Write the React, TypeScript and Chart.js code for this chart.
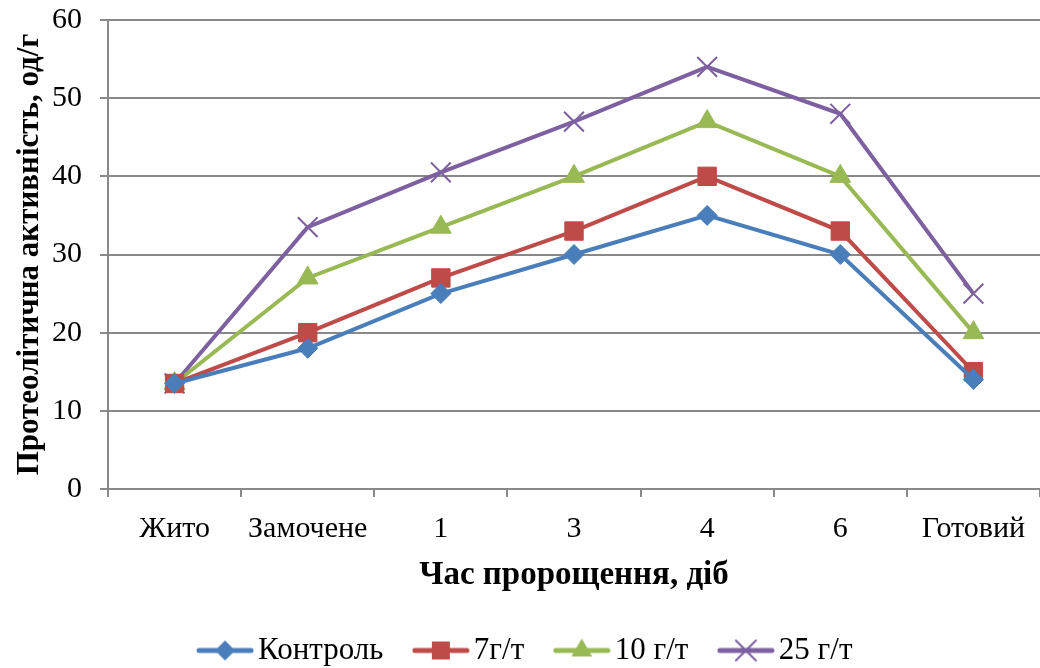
import React, { useEffect, useRef } from "react";
import { Chart, registerables } from "chart.js";

Chart.register(...registerables);

const categories = ["Жито", "Замочене", "1", "3", "4", "6", "Готовий"];
const control = [13.5, 18, 25, 30, 35, 30, 14];
const s7 = [13.5, 20, 27, 33, 40, 33, 15];
const s10 = [13.5, 27, 33.5, 40, 47, 40, 20];
const s25 = [13.5, 33.5, 40.5, 47, 54, 48, 25];
const seriesLabels = ["Контроль", "7г/т", "10 г/т", "25 г/т"];
const yTitle = "Протеолітична активність, од/г";
const xTitle = "Час пророщення, діб";

const colors = ["#4A7EBB", "#BE4B48", "#98B954", "#7D60A0"];
const FONT = '"Liberation Serif", "Times New Roman", serif';
const GRID = "#898989";

function drawMarker(ctx: CanvasRenderingContext2D, kind: string, x: number, y: number, color: string) {
  ctx.fillStyle = color;
  ctx.strokeStyle = color;
  ctx.beginPath();
  if (kind === "diamond") {
    const r = 10;
    ctx.moveTo(x, y - r);
    ctx.lineTo(x + r, y);
    ctx.lineTo(x, y + r);
    ctx.lineTo(x - r, y);
    ctx.closePath();
    ctx.fill();
  } else if (kind === "square") {
    ctx.rect(x - 9, y - 9, 18, 18);
    ctx.fill();
  } else if (kind === "triangle") {
    const r = 12;
    ctx.moveTo(x, y - r);
    ctx.lineTo(x + r * 0.866, y + r * 0.5);
    ctx.lineTo(x - r * 0.866, y + r * 0.5);
    ctx.closePath();
    ctx.fill();
  } else {
    const h = 10;
    ctx.lineWidth = 2;
    ctx.moveTo(x - h, y - h);
    ctx.lineTo(x + h, y + h);
    ctx.moveTo(x + h, y - h);
    ctx.lineTo(x - h, y + h);
    ctx.stroke();
  }
}

function makeIcon(kind: string, color: string) {
  const c = document.createElement("canvas");
  c.width = 58;
  c.height = 28;
  const ctx = c.getContext("2d")!;
  ctx.strokeStyle = color;
  ctx.lineWidth = 5;
  ctx.lineCap = "round";
  ctx.beginPath();
  ctx.moveTo(3, 14);
  ctx.lineTo(55, 14);
  ctx.stroke();
  drawMarker(ctx, kind, 29, 14, color);
  return c;
}

export default function App() {
  const ref = useRef<HTMLCanvasElement | null>(null);
  useEffect(() => {
    if (!ref.current) return;
    const kinds = ["diamond", "square", "triangle", "cross"];
    const icons = kinds.map((k, i) => makeIcon(k, colors[i]));
    const data = [control, s7, s10, s25];
    const pointStyles = ["rectRot", "rect", "triangle", "crossRot"];
    const radii = [10, 13, 12, 14];
    const chart = new Chart(ref.current, {
      type: "line",
      data: {
        labels: categories,
        datasets: data.map((d, i) => ({
          label: seriesLabels[i],
          data: d,
          borderColor: colors[i],
          backgroundColor: colors[i],
          borderWidth: 4,
          pointStyle: pointStyles[i] as any,
          pointRadius: radii[i],
          pointBorderWidth: i === 3 ? 2 : 1,
          pointBackgroundColor: colors[i],
          pointBorderColor: colors[i],
          tension: 0,
        })),
      },
      options: {
        animation: false,
        responsive: false,
        layout: { autoPadding: false, padding: { left: 20, right: 0, top: 20, bottom: 0 } },
        plugins: {
          tooltip: { enabled: false },
          legend: {
            position: "bottom",
            labels: {
              usePointStyle: true,
              pointStyleWidth: 35,
              padding: 40,
              color: "#000",
              font: { family: FONT, size: 31 },
              generateLabels: (ch: any) =>
                ch.data.datasets.map((ds: any, i: number) => ({
                  text: ds.label,
                  pointStyle: icons[i],
                  fillStyle: colors[i],
                  strokeStyle: colors[i],
                  lineWidth: 0,
                  hidden: false,
                  datasetIndex: i,
                  fontColor: "#000",
                })),
            },
          },
        },
        scales: {
          x: {
            type: "category",
            offset: true,
            grid: {
              offset: true,
              drawOnChartArea: false,
              drawTicks: true,
              tickLength: 8,
              color: GRID,
              lineWidth: 2,
            },
            border: { color: GRID, width: 2 },
            ticks: {
              color: "#000",
              padding: 14,
              maxRotation: 0,
              autoSkip: false,
              font: { family: FONT, size: 30 },
            },
            title: {
              display: true,
              text: xTitle,
              color: "#000",
              font: { family: FONT, size: 33, weight: "bold" },
              padding: { top: 0, bottom: 0 },
            },
            afterFit: (s: any) => {
              s.height = 106;
              s.paddingLeft = 0;
              s.paddingRight = 0;
            },
          },
          y: {
            min: 0,
            max: 60,
            ticks: {
              stepSize: 10,
              color: "#000",
              padding: 18,
              font: { family: FONT, size: 30 },
            },
            grid: { color: GRID, lineWidth: 2, tickLength: 8 },
            border: { color: GRID, width: 2 },
            title: {
              display: true,
              text: yTitle,
              color: "#000",
              font: { family: FONT, size: 31, weight: "bold" },
              padding: { top: -9, bottom: 0 },
            },
            afterFit: (s: any) => {
              s.width = 88;
              s.paddingTop = 0;
              s.paddingBottom = 0;
            },
          },
        },
      },
    } as any);
    return () => chart.destroy();
  }, []);
  return (
    <div style={{ position: "absolute", left: 0, top: 0, width: 1040, height: 668, overflow: "hidden", background: "#fff" }}>
      <canvas ref={ref} width={1040} height={676} style={{ display: "block" }} />
    </div>
  );
}
